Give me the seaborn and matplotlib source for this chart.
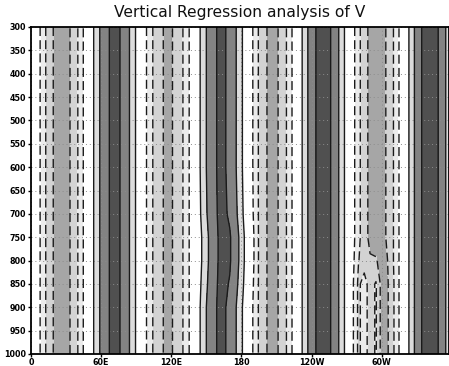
import numpy as np
import matplotlib
matplotlib.use("Agg")
import matplotlib.pyplot as plt
import seaborn as sns

# ---------------- data ----------------
lons = list(range(0, 365, 5))
pressures = [300, 600, 700, 750, 800, 850, 900, 1000]

v_upper = [0.85, -0.36, -1.50, -2.46, -3.13, -3.44, -3.33, -2.84, -2.01, -0.94,
           0.22, 1.30, 2.22, 2.88, 3.18, 3.10, 2.65, 1.88, 0.88,
           -0.21, -1.25, -2.15, -2.80, -3.12, -3.08, -2.69, -1.99, -1.06,
           0.00, 1.07, 2.01, 2.71, 3.09, 3.11, 2.77, 2.09, 1.17, 0.11,
           -1.07, -2.12, -2.87, -3.23, -3.14, -2.61, -1.73, -0.60,
           0.58, 1.68, 2.57, 3.15, 3.35, 3.15, 2.57, 1.68, 0.58,
           -0.59, -1.70, -2.62, -3.24, -3.50, -3.36, -2.84, -2.00, -0.94,
           0.24, 1.42, 2.42, 3.12, 3.44, 3.33, 2.82, 1.95, 0.85]

v_700 = [0.85, -0.36, -1.50, -2.46, -3.13, -3.44, -3.33, -2.84, -2.01, -0.94,
         0.22, 1.30, 2.22, 2.88, 3.18, 3.10, 2.65, 1.88, 0.88,
         -0.21, -1.25, -2.15, -2.80, -3.12, -3.08, -2.69, -1.99, -1.06,
         0.00, 0.98, 1.92, 2.65, 3.06, 3.14, 2.88, 2.25, 1.30, 0.22,
         -0.99, -2.12, -2.87, -3.23, -3.14, -2.61, -1.73, -0.60,
         0.58, 1.68, 2.57, 3.15, 3.35, 3.15, 2.57, 1.68, 0.58,
         -0.59, -1.70, -2.62, -3.24, -3.50, -3.36, -2.84, -2.00, -0.94,
         0.24, 1.42, 2.42, 3.12, 3.44, 3.33, 2.82, 1.95, 0.85]

v_750 = [0.85, -0.36, -1.50, -2.46, -3.13, -3.44, -3.33, -2.84, -2.01, -0.94,
         0.22, 1.30, 2.22, 2.88, 3.18, 3.10, 2.65, 1.88, 0.88,
         -0.21, -1.25, -2.15, -2.80, -3.12, -3.08, -2.69, -1.99, -1.06,
         0.00, 0.82, 1.72, 2.52, 3.00, 3.20, 3.08, 2.55, 1.55, 0.42,
         -0.82, -2.12, -2.87, -3.23, -3.14, -2.61, -1.73, -0.60,
         0.58, 1.68, 2.57, 3.15, 3.35, 3.15, 2.57, 1.68, 0.58,
         -0.59, -1.70, -2.62, -3.24, -3.50, -3.36, -2.84, -2.00, -0.94,
         0.24, 1.42, 2.42, 3.12, 3.44, 3.33, 2.82, 1.95, 0.85]

v_800 = [0.85, -0.36, -1.50, -2.46, -3.13, -3.44, -3.33, -2.84, -2.01, -0.94,
         0.22, 1.30, 2.22, 2.88, 3.18, 3.10, 2.65, 1.88, 0.88,
         -0.21, -1.25, -2.15, -2.80, -3.12, -3.08, -2.69, -1.99, -1.06,
         0.00, 0.82, 1.72, 2.52, 3.00, 3.20, 3.08, 2.55, 1.55, 0.42,
         -0.82, -2.12, -2.87, -3.23, -3.14, -2.61, -1.73, -0.60,
         0.58, 1.68, 2.57, 3.15, 3.35, 3.15, 2.57, 1.68, 0.58,
         -0.65, -1.95, -2.45, -2.90, -2.90, -3.40, -3.00, -2.00, -0.94,
         0.24, 1.42, 2.42, 3.12, 3.44, 3.33, 2.82, 1.95, 0.85]

v_850 = [0.85, -0.36, -1.50, -2.46, -3.13, -3.44, -3.33, -2.84, -2.01, -0.94,
         0.22, 1.30, 2.22, 2.88, 3.18, 3.10, 2.65, 1.88, 0.88,
         -0.21, -1.25, -2.15, -2.80, -3.12, -3.08, -2.69, -1.99, -1.06,
         0.00, 0.94, 1.86, 2.60, 3.05, 3.15, 2.95, 2.35, 1.40, 0.30,
         -0.95, -2.12, -2.87, -3.23, -3.14, -2.61, -1.73, -0.60,
         0.58, 1.68, 2.57, 3.15, 3.35, 3.15, 2.57, 1.68, 0.58,
         -0.80, -2.20, -1.60, -2.40, -1.90, -3.40, -3.10, -2.10, -0.94,
         0.24, 1.42, 2.42, 3.12, 3.44, 3.33, 2.82, 1.95, 0.85]

v_lower = [0.85, -0.36, -1.50, -2.46, -3.13, -3.44, -3.33, -2.84, -2.01, -0.94,
           0.22, 1.30, 2.22, 2.88, 3.18, 3.10, 2.65, 1.88, 0.88,
           -0.21, -1.25, -2.15, -2.80, -3.12, -3.08, -2.69, -1.99, -1.06,
           0.00, 1.07, 2.01, 2.71, 3.09, 3.11, 2.77, 2.09, 1.17, 0.11,
           -1.07, -2.12, -2.87, -3.23, -3.14, -2.61, -1.73, -0.60,
           0.58, 1.68, 2.57, 3.15, 3.35, 3.15, 2.57, 1.68, 0.58,
           -0.80, -2.20, -1.60, -2.40, -1.90, -3.40, -3.10, -2.10, -0.94,
           0.24, 1.42, 2.42, 3.12, 3.44, 3.33, 2.82, 1.95, 0.85]

shade_levels = [-10, -3, -2, -1, 1, 2, 3, 10]
shade_colors = ['#a6a6a6', '#d3d3d3', '#ebebeb', '#ffffff',
                '#dcdcdc', '#838383', '#505050']
neg_levels = [-3, -2, -1]
pos_levels = [1, 2, 3]

x_ticks = [0, 60, 120, 180, 240, 300]
x_labels = ['0', '60E', '120E', '180', '120W', '60W']
y_ticks = list(range(300, 1001, 50))
title = 'Vertical Regression analysis of V'

# ---------------- plotting ----------------
sns.set_theme(style='white')
plt.rcParams['font.family'] = ['DejaVu Sans']
plt.rcParams['lines.dashed_pattern'] = [6.5, 3.0]

V = np.array([v_upper, v_upper, v_700, v_750, v_800, v_850, v_lower, v_lower])
LON, P = np.meshgrid(lons, pressures)

fig = plt.figure(figsize=(4.49, 3.66), dpi=100)
ax = fig.add_axes([31 / 449, 12 / 366, 418 / 449, 327 / 366])

ax.contourf(LON, P, V, levels=shade_levels, colors=shade_colors, zorder=1)
ax.contour(LON, P, V, levels=neg_levels, colors='k', linewidths=1.0,
           linestyles='dashed', zorder=3)
ax.contour(LON, P, V, levels=pos_levels, colors='k', linewidths=1.0,
           linestyles='solid', zorder=3)

ax.set_xlim(0, 357.5)
ax.set_ylim(1000, 300)
ax.set_xticks(x_ticks)
ax.set_xticklabels(x_labels)
ax.set_yticks(y_ticks)
ax.set_yticklabels([str(t) for t in y_ticks])
ax.tick_params(axis='both', direction='out', length=2.5, width=1,
               labelsize=5.8, colors='black', bottom=True, left=True,
               top=False, right=False)
ax.tick_params(axis='x', pad=0.5)
ax.tick_params(axis='y', pad=1.0)
for lab in ax.get_xticklabels() + ax.get_yticklabels():
    lab.set_fontweight('bold')

ax.set_axisbelow(False)
ax.grid(True, color='#8c8c8c', linestyle=(0, (1, 3)), linewidth=0.7, zorder=2)
for s in ax.spines.values():
    s.set_color('black')
    s.set_linewidth(1.3)
    s.set_zorder(4)
ax.set_xlabel('')
ax.set_ylabel('')

fig.text((31 + 449) / 2 / 449, 1 - 12 / 366, title, ha='center', va='center',
         fontsize=11.2, color='#111111')

fig.savefig('out.png', dpi=100, facecolor='white')
